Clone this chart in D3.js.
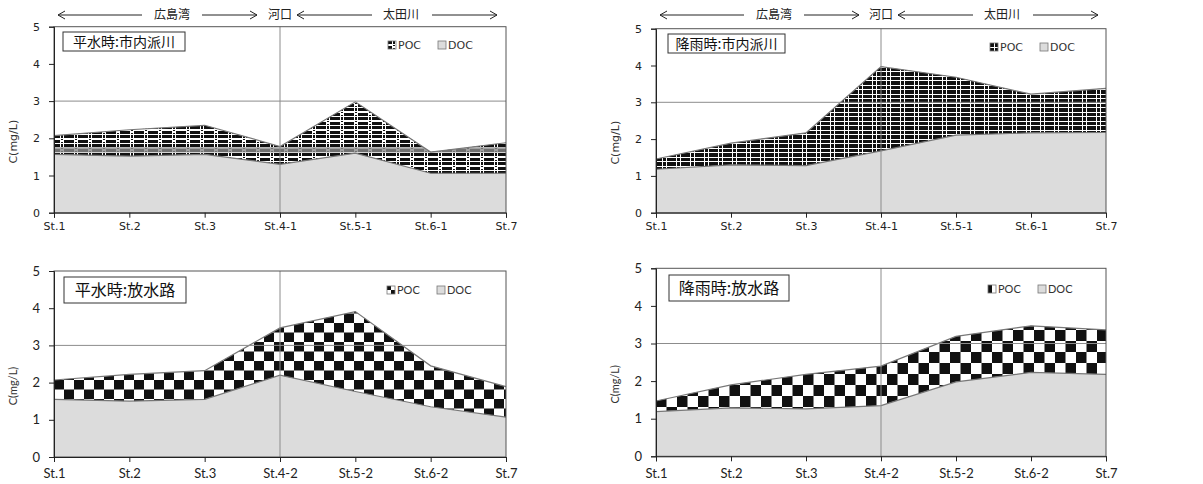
<!DOCTYPE html>
<html>
<head>
<meta charset="utf-8">
<script src="https://cdn.jsdelivr.net/npm/d3@7"></script>
<style>
  html, body { margin: 0; padding: 0; background: #fff; }
  svg { display: block; }
</style>
</head>
<body>
<svg id="chart" width="1203" height="484"></svg>
<script>
// Station names along each transect
const stationsCity = ["St.1", "St.2", "St.3", "St.4-1", "St.5-1", "St.6-1", "St.7"];
const stationsFlood = ["St.1", "St.2", "St.3", "St.4-2", "St.5-2", "St.6-2", "St.7"];
const yTicks = [0, 1, 2, 3, 4, 5];

// Concentrations C (mg/L): DOC (bottom layer) and POC (stacked on top)
const docNormalCity = [1.57, 1.52, 1.57, 1.30, 1.60, 1.06, 1.06];
const pocNormalCity = [0.50, 0.71, 0.78, 0.48, 1.38, 0.57, 0.82];

const docRainCity = [1.18, 1.30, 1.28, 1.68, 2.11, 2.17, 2.18];
const pocRainCity = [0.28, 0.59, 0.89, 2.29, 1.57, 1.05, 1.20];

const docNormalFlood = [1.55, 1.50, 1.55, 2.20, 1.76, 1.35, 1.07];
const pocNormalFlood = [0.52, 0.72, 0.77, 1.27, 2.15, 1.10, 0.82];

const docRainFlood = [1.19, 1.29, 1.26, 1.35, 1.98, 2.23, 2.18];
const pocRainFlood = [0.28, 0.61, 0.92, 1.05, 1.21, 1.24, 1.18];

const svg = d3.select("#chart");
const defs = svg.append("defs");

// ---- fill patterns for the POC layer ----
function plaidPattern(id, w, h, rects, ox, oy) {
  const p = defs.append("pattern").attr("id", id)
    .attr("patternUnits", "userSpaceOnUse")
    .attr("width", w).attr("height", h)
    .attr("x", ox).attr("y", oy);
  p.append("rect").attr("width", w).attr("height", h).attr("fill", "#fff");
  rects.forEach(r => p.append("rect")
    .attr("x", r[0]).attr("y", r[1]).attr("width", r[2]).attr("height", r[3])
    .attr("fill", "#111"));
}
function checkerPattern(id, cw, ch, ox, oy) {
  const p = defs.append("pattern").attr("id", id)
    .attr("patternUnits", "userSpaceOnUse")
    .attr("width", cw * 2).attr("height", ch * 2)
    .attr("x", ox).attr("y", oy);
  p.append("rect").attr("width", cw * 2).attr("height", ch * 2).attr("fill", "#fff");
  p.append("rect").attr("x", 0).attr("y", 0).attr("width", cw).attr("height", ch).attr("fill", "#111");
  p.append("rect").attr("x", cw).attr("y", ch).attr("width", cw).attr("height", ch).attr("fill", "#111");
}

// woven plaid: heavy blocks split by white threads
plaidPattern("plaidA", 14, 9,
  [[0, 0, 6, 3], [7, 0, 2, 3], [10, 0, 4, 3],
   [0, 5, 6, 3], [10, 5, 4, 3],
   [7, 4, 2, 1], [7, 7, 2, 1]], 54, 0);
plaidPattern("plaidB", 14, 9,
  [[0, 0, 6, 4], [7, 0, 3, 4], [11, 0, 3, 4],
   [0, 5, 6, 3], [7, 5, 3, 3], [11, 5, 3, 3]], 656, 0);
checkerPattern("checkA", 10, 9.5, 54, 0);
checkerPattern("checkB", 10.5, 11, 656, 0);
// small versions for the legend swatches
checkerPattern("checkA_s", 4, 4, 0, 0);
checkerPattern("checkB_s", 4, 8, 0, 0);

const panels = [
  { cats: stationsCity, doc: docNormalCity, poc: pocNormalCity, title: "平水時:市内派川",
    left: 54, right: 506, top: 26.7, bottom: 212.7, fill: "plaidA", legFill: "plaidA", header: true,
    box: [63, 32, 122, 19], titleSize: 14, legX: 388, legY: 45, band: [1.62, 1.76],
    tickFont: "'DejaVu Sans', sans-serif", tickSize: 11, tickPad: 5 },
  { cats: stationsCity, doc: docRainCity, poc: pocRainCity, title: "降雨時:市内派川",
    left: 656, right: 1106, top: 28.7, bottom: 212.7, fill: "plaidB", legFill: "plaidB", header: true,
    box: [668, 34, 117, 19], titleSize: 14, legX: 990, legY: 47,
    tickFont: "'DejaVu Sans', sans-serif", tickSize: 11, tickPad: 5 },
  { cats: stationsFlood, doc: docNormalFlood, poc: pocNormalFlood, title: "平水時:放水路",
    left: 54, right: 506, top: 271, bottom: 457, fill: "checkA", legFill: "checkA_s", header: false,
    box: [64, 277, 122, 26], titleSize: 16, legX: 387, legY: 290,
    tickFont: "Lato, sans-serif", tickSize: 13, tickPad: 7 },
  { cats: stationsFlood, doc: docRainFlood, poc: pocRainFlood, title: "降雨時:放水路",
    left: 656, right: 1106, top: 268.3, bottom: 456.3, fill: "checkB", legFill: "checkB_s", header: false,
    box: [669, 275, 120, 26], titleSize: 16, legX: 988, legY: 289,
    tickFont: "Lato, sans-serif", tickSize: 13, tickPad: 7 }
];

const jp = "'Noto Sans CJK JP', 'Noto Sans', sans-serif";

panels.forEach((pn, i) => {
  const g = svg.append("g");
  const x = d3.scalePoint().domain(pn.cats).range([pn.left, pn.right]);
  const y = d3.scaleLinear().domain([0, 5]).range([pn.bottom, pn.top]);

  const rows = pn.cats.map((c, k) => ({ station: c, DOC: pn.doc[k], POC: pn.poc[k] }));
  const stacked = d3.stack().keys(["DOC", "POC"])(rows);

  const area = d3.area()
    .x(d => x(d.data.station))
    .y0(d => y(d[0]))
    .y1(d => y(d[1]));
  const line = d3.line().x(d => x(d.data.station)).y(d => y(d[1]));

  // DOC layer
  g.append("path").datum(stacked[0]).attr("d", area).attr("fill", "#dcdcdc");
  // POC layer
  g.append("path").datum(stacked[1]).attr("d", area).attr("fill", `url(#${pn.fill})`);

  // grey banding inside the POC layer
  if (pn.band) {
    const cid = "clipPoc" + i;
    defs.append("clipPath").attr("id", cid)
      .append("path").datum(stacked[1]).attr("d", area);
    g.append("rect")
      .attr("x", pn.left).attr("width", pn.right - pn.left)
      .attr("y", y(pn.band[1])).attr("height", y(pn.band[0]) - y(pn.band[1]))
      .attr("fill", "#8a8a8a").attr("opacity", 0.8)
      .attr("clip-path", `url(#${cid})`);
  }

  // layer outlines
  g.append("path").datum(stacked[0]).attr("d", line)
    .attr("fill", "none").attr("stroke", "#777").attr("stroke-width", 1.2);
  g.append("path").datum(stacked[1]).attr("d", line)
    .attr("fill", "none").attr("stroke", "#777").attr("stroke-width", 1.2);

  // gridlines: y = 3 and the river-mouth station
  g.append("line")
    .attr("x1", pn.left).attr("x2", pn.right)
    .attr("y1", y(3)).attr("y2", y(3))
    .attr("stroke", "#8c8c8c").attr("stroke-width", 1);
  g.append("line")
    .attr("x1", x(pn.cats[3])).attr("x2", x(pn.cats[3]))
    .attr("y1", pn.top).attr("y2", pn.bottom)
    .attr("stroke", "#8c8c8c").attr("stroke-width", 1);

  // plot frame
  g.append("rect")
    .attr("x", pn.left).attr("y", pn.top)
    .attr("width", pn.right - pn.left).attr("height", pn.bottom - pn.top)
    .attr("fill", "none").attr("stroke", "#555").attr("stroke-width", 1);

  // axes
  const ya = g.append("g").attr("transform", `translate(${pn.left},0)`)
    .call(d3.axisLeft(y).tickValues(yTicks).tickFormat(d3.format("d")).tickSize(5).tickPadding(9));
  const xa = g.append("g").attr("transform", `translate(0,${pn.bottom})`)
    .call(d3.axisBottom(x).tickSize(5).tickPadding(pn.tickPad));
  [ya, xa].forEach(a => {
    a.select(".domain").attr("stroke", "#222");
    a.selectAll(".tick line").attr("stroke", "#222");
    a.selectAll("text").attr("fill", "#222")
      .style("font-family", pn.tickFont).style("font-size", pn.tickSize + "px");
  });

  // y-axis title
  g.append("text")
    .attr("transform", `translate(${pn.left - 37},${(pn.top + pn.bottom) / 2 + 22}) rotate(-90)`)
    .attr("text-anchor", "middle")
    .style("font-family", pn.tickFont).style("font-size", "11px").attr("fill", "#333")
    .text("C(mg/L)");

  // panel title box
  g.append("rect")
    .attr("x", pn.box[0]).attr("y", pn.box[1]).attr("width", pn.box[2]).attr("height", pn.box[3])
    .attr("fill", "#fff").attr("stroke", "#333").attr("stroke-width", 1);
  g.append("text")
    .attr("x", pn.box[0] + pn.box[2] / 2).attr("y", pn.box[1] + pn.box[3] / 2)
    .attr("dy", "0.36em").attr("text-anchor", "middle")
    .style("font-family", jp).style("font-size", pn.titleSize + "px").attr("fill", "#111")
    .text(pn.title);

  // legend
  [["POC", `url(#${pn.legFill})`], ["DOC", "#dcdcdc"]].forEach((item, k) => {
    const lx = pn.legX + k * 50;
    const sw = g.append("g").attr("transform", `translate(${lx},${pn.legY - 4})`);
    sw.append("rect").attr("width", 8).attr("height", 8)
      .attr("fill", item[1]).attr("stroke", "#777").attr("stroke-width", 0.8);
    g.append("text").attr("x", lx + 10).attr("y", pn.legY).attr("dy", "0.36em")
      .style("font-family", pn.tickFont).style("font-size", "11px").attr("fill", "#333")
      .text(item[0]);
  });

  // section header: bay / river mouth / river
  if (pn.header) {
    const hy = 15;
    const L = pn.left;
    const mouth = x(pn.cats[3]);
    const hdr = g.append("g").attr("stroke", "#222").attr("stroke-width", 1).attr("fill", "none");
    const arrow = (x1, x2, headLeft) => {
      hdr.append("line").attr("x1", x1).attr("x2", x2).attr("y1", hy).attr("y2", hy);
      const hx = headLeft ? x1 : x2, s = headLeft ? 1 : -1;
      hdr.append("path").attr("d", `M${hx + s * 7},${hy - 4}L${hx},${hy}L${hx + s * 7},${hy + 4}`);
    };
    arrow(L + 4, L + 88, true);
    arrow(L + 148, L + 203, false);
    arrow(mouth + 17, mouth + 92, true);
    arrow(mouth + 152, mouth + 217, false);
    const lab = (cx, t) => g.append("text").attr("x", cx).attr("y", hy).attr("dy", "0.36em")
      .attr("text-anchor", "middle").style("font-family", jp).style("font-size", "12px")
      .attr("fill", "#222").text(t);
    lab(L + 118, "広島湾");
    lab(mouth, "河口");
    lab(mouth + 121, "太田川");
  }
});
</script>
</body>
</html>
